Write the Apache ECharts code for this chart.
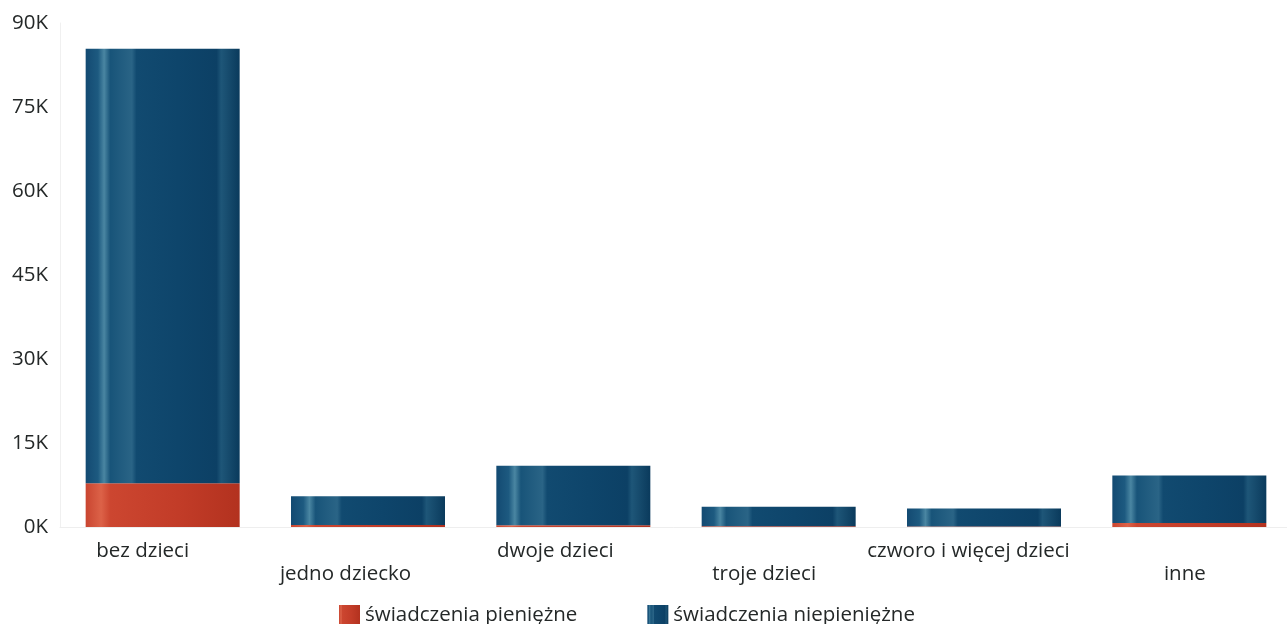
<!DOCTYPE html>
<html>
<head>
<meta charset="utf-8">
<script src="https://cdn.jsdelivr.net/npm/echarts@6/dist/echarts.min.js"></script>
<style>html,body{margin:0;padding:0;background:#fff}#c{width:1287px;height:624px}</style>
</head>
<body>
<div id="c"></div>
<script>
const categories = ['bez dzieci', 'jedno dziecko', 'dwoje dzieci', 'troje dzieci', 'czworo i więcej dzieci', 'inne'];
const pieniezne = [7800, 350, 300, 150, 100, 700];
const niepieniezne = [77600, 5150, 10650, 3450, 3200, 8500];
const yTicks = [0, 15000, 30000, 45000, 60000, 75000, 90000];

const font = '"Open Sans", sans-serif';
const labelShift = [40, 45, 36, 29, 31, 9];

const blueGrad = new echarts.graphic.LinearGradient(0, 0, 1, 0, [
  {offset: 0, color: '#134a72'},
  {offset: 0.08, color: '#1d5a80'},
  {offset: 0.12, color: '#4a86a2'},
  {offset: 0.16, color: '#185479'},
  {offset: 0.3, color: '#2a6486'},
  {offset: 0.33, color: '#114a70'},
  {offset: 0.6, color: '#0e456b'},
  {offset: 0.85, color: '#0c4065'},
  {offset: 0.88, color: '#1e5678'},
  {offset: 1, color: '#0a3a5c'}
]);
const redGrad = new echarts.graphic.LinearGradient(0, 0, 1, 0, [
  {offset: 0, color: '#c94530'},
  {offset: 0.1, color: '#dc6248'},
  {offset: 0.16, color: '#cc4630'},
  {offset: 0.6, color: '#c23c28'},
  {offset: 1, color: '#b3321f'}
]);

const chart = echarts.init(document.getElementById('c'), null, {renderer: 'canvas'});
chart.setOption({
  animation: false,
  textStyle: {fontFamily: font},
  grid: {left: 60, top: 23, bottom: 97, right: -5, containLabel: false, outerBoundsMode: 'none'},
  legend: {
    top: 605, left: 339, padding: 0,
    itemWidth: 21, itemHeight: 21, itemGap: 70,
    icon: 'rect',
    textStyle: {fontSize: 20.5, color: '#242828', fontFamily: font},
    data: ['świadczenia pieniężne', 'świadczenia niepieniężne']
  },
  xAxis: {
    type: 'category',
    data: categories.map((c, i) => ({value: c, textStyle: {padding: [0, labelShift[i], 0, 0]}})),
    axisLine: {show: true, lineStyle: {color: '#eeeeee'}},
    axisTick: {show: false},
    axisLabel: {
      interval: 0, fontSize: 20.5, color: '#242828', margin: 12, lineHeight: 23.5,
      formatter: (v, i) => (i % 2 === 1 ? '\n' : '') + v
    }
  },
  yAxis: {
    type: 'value', min: 0, max: 90000, interval: 15000,
    axisLine: {show: true, lineStyle: {color: '#f0f0f0'}},
    axisTick: {show: false},
    splitLine: {show: false},
    axisLabel: {
      fontSize: 20.5, color: '#242828', margin: 12,
      formatter: v => yTicks.includes(v) ? (v / 1000) + 'K' : ''
    }
  },
  series: [
    {name: 'świadczenia pieniężne', type: 'bar', stack: 't', data: pieniezne, barWidth: '75%',
     itemStyle: {color: redGrad}},
    {name: 'świadczenia niepieniężne', type: 'bar', stack: 't', data: niepieniezne, barWidth: '75%',
     itemStyle: {color: blueGrad}}
  ]
});
</script>
</body>
</html>
